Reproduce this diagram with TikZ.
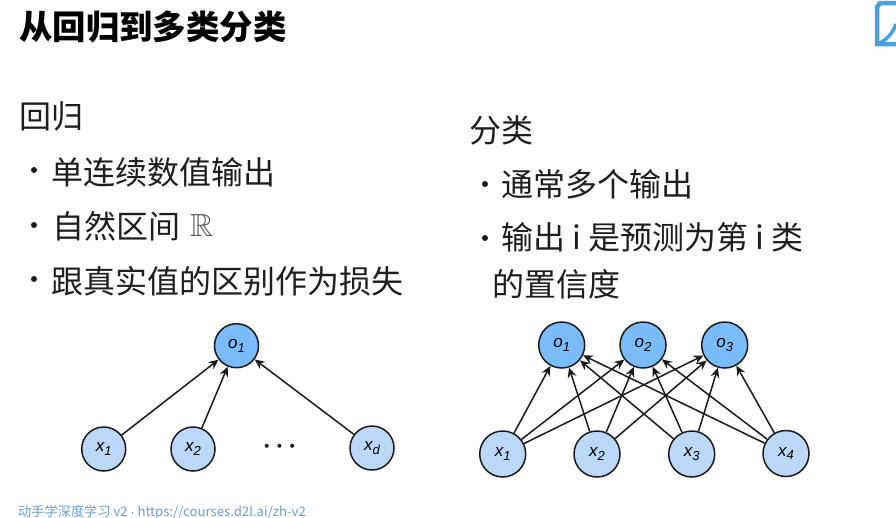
\documentclass[tikz,border=0pt]{standalone}
\usepackage{amsmath,amssymb}
\usepackage{fontspec}
\setmainfont{Noto Sans CJK SC}
\newfontfamily\lblfont{Liberation Sans}
\usetikzlibrary{arrows.meta}
\definecolor{cout}{RGB}{122,187,250}
\definecolor{cinp}{RGB}{187,216,249}
\definecolor{cline}{RGB}{26,26,26}
\definecolor{ctxt}{RGB}{30,30,30}
\definecolor{cfoot}{RGB}{110,158,204}
\definecolor{cicon}{RGB}{72,160,222}
\newcommand{\Nlab}[2]{{\lblfont\itshape #1\raisebox{-0.4ex}{\fontsize{13}{13}\selectfont #2}}}
\tikzset{
  onode/.style={circle, draw=cline, fill=cout, line width=1.5pt, minimum size=44pt, inner sep=0pt, font=\fontsize{17}{17}\selectfont},
  inode/.style={circle, draw=cline, fill=cinp, line width=1.5pt, minimum size=44pt, inner sep=0pt, font=\fontsize{17}{17}\selectfont},
  conn/.style={-{Stealth[length=10pt,width=9pt,inset=3.5pt]}, cline, line width=1.5pt},
  ttl/.style={anchor=west, inner sep=0pt, text=black, font=\fontsize{33.4}{34}\selectfont\bfseries},
  body/.style={anchor=west, inner sep=0pt, text=ctxt, font=\fontsize{32}{33}\selectfont},
  bul/.style={circle, fill=cline, inner sep=0pt, minimum size=6pt},
}
\begin{document}
\begin{tikzpicture}[x=1pt,y=-1pt]
\useasboundingbox (0,0) rectangle (896,517);
\clip (0,0) rectangle (896,517);
\node[ttl] (title) at (19,27) {从回归到多类分类};
% logo in the corner
\draw[cicon, line width=4.5pt] (896,3) -- (880,3) -- (877,7) -- (877,44) -- (896,44);
\draw[cicon, line width=3.5pt] (877,44) .. controls (886,41) and (893,33) .. (896,24);
% regression
\node[body] (reg) at (19,116) {回归};
\node[bul] (b1) at (34,170) {};
\node[body] (r1) at (51,172) {单连续数值输出};
\node[bul] (b2) at (34,225) {};
\node[body] (r2) at (52,226) {自然区间};
\node[anchor=west, inner sep=0pt, text=black!65, font=\fontsize{32}{32}\selectfont] (r2b) at (190,225) {$\mathbb{R}$};
\node[bul] (b3) at (34,279) {};
\node[body] (r3) at (51,281) {跟真实值的区别作为损失};
% classification
\node[body] (cls) at (469,130) {分类};
\node[bul] (c1) at (485,184) {};
\node[body] (t1) at (501,184) {通常多个输出};
\node[bul] (c2) at (485,238) {};
\node[body] (t2) at (501,237) {输出 i 是预测为第 i 类};
\node[body] (t3) at (492,284) {的置信度};
% left net
\node[onode] (o) at (236.5,345.7) {\Nlab{o}{1}};
\node[inode] (xa) at (103.7,449) {\Nlab{x}{1}};
\node[inode] (xb) at (193,449) {\Nlab{x}{2}};
\node[inode] (xd) at (372,448) {\Nlab{x}{d}};
\node[inner sep=0pt, font=\fontsize{25}{25}\selectfont\boldmath] (dots) at (282,447) {$\cdots$};
\foreach \a in {xa,xb,xd}
  \draw[conn] (\a) -- (o);
% right net
\node[onode, minimum size=46pt] (o1) at (561.7,345) {\Nlab{o}{1}};
\node[onode, minimum size=46pt] (o2) at (643,345) {\Nlab{o}{2}};
\node[onode, minimum size=46pt] (o3) at (724.7,345) {\Nlab{o}{3}};
\node[inode, minimum size=46pt] (x1) at (502.7,454) {\Nlab{x}{1}};
\node[inode, minimum size=46pt] (x2) at (597,454) {\Nlab{x}{2}};
\node[inode, minimum size=46pt] (x3) at (691.7,454) {\Nlab{x}{3}};
\node[inode, minimum size=46pt] (x4) at (786,453.5) {\Nlab{x}{4}};
\foreach \i in {1,...,4}
  \foreach \j in {1,2,3}
    \draw[conn] (x\i) -- (o\j);
% footer
\node[anchor=west, inner sep=0pt, text=cfoot, font=\fontsize{13.2}{14}\selectfont] (foot) at (18,512.5) {动手学深度学习 v2 $\boldsymbol{\cdot}$ https://courses.d2l.ai/zh-v2};
\end{tikzpicture}
\end{document}
